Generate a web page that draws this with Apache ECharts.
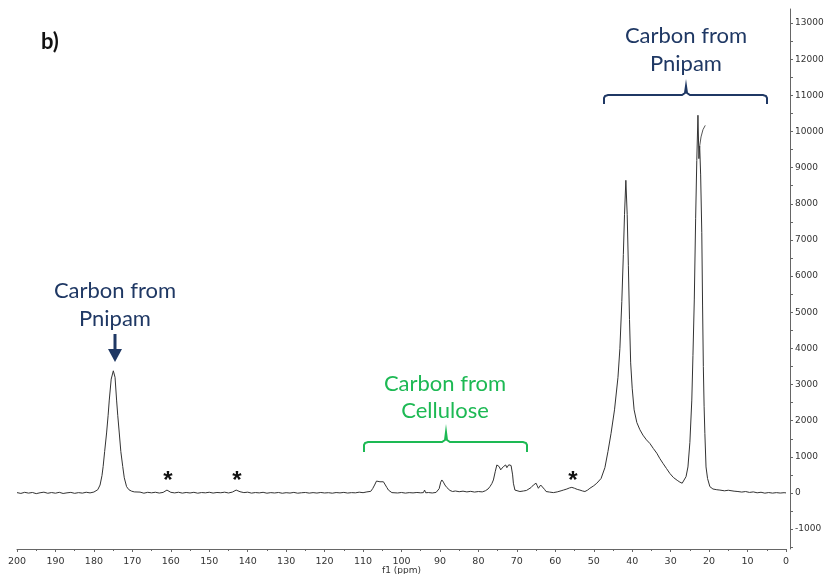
<!DOCTYPE html>
<html>
<head>
<meta charset="utf-8">
<script src="https://cdn.jsdelivr.net/npm/echarts@6/dist/echarts.min.js"></script>
<style>html,body{margin:0;padding:0;background:#fff}#chart{width:825px;height:574px}</style>
</head>
<body>
<div id="chart"></div>
<script>
// 13C NMR spectrum, [chemical shift (ppm), intensity]
const spectrum = [
[200,10],[199,-12],[198,18],[197,-4],[196,14],[195,-18],[194,6],[193,22],[192,-8],[191,12],[190,-6],
[189,18],[188,-14],[187,4],[186,16],[185,-10],[184,10],[183,-4],[182,20],[181,2],[180,26],
[179.5,45],[179,90],[178.4,220],[177.9,480],[177.6,730],[177.2,1150],[176.7,1660],[176.3,2150],[176.0,2570],
[175.5,3150],[174.95,3380],[174.5,3200],[174.1,2570],[173.8,2150],[173.4,1660],[173.0,1150],[172.5,730],
[172.1,420],[171.5,175],[170.9,90],[170.2,50],[169.5,30],
[169,10],[168,24],[167,-6],[166,18],[165,4],[164,20],[163,-2],[162,16],[161.5,45],[161,80],[160.5,60],[160,18],
[159,2],[158,20],[157,-4],[156,14],[155,0],[154,18],[153,-6],[152,12],[151,4],[150,20],[149,-2],[148,14],
[147,6],[146,22],[145,0],[144,24],[143.5,55],[143,80],[142.5,75],[142,35],[141,10],[140,22],[139,-4],[138,12],
[137,2],[136,18],[135,-6],[134,10],[133,0],[132,14],[131,-8],[130,8],[129,-2],[128,16],[127,-6],[126,6],
[125,14],[124,-4],[123,10],[122,-2],[121,14],[120,0],[119,8],[118,-6],[117,12],[116,2],[115,16],[114,-2],
[113,10],[112,4],[111,22],[110,8],[109,30],[108.5,20],[108,45],[107.5,120],[107,220],[106.5,330],[106,360],
[105.6,310],[105.2,340],[104.7,310],[104.3,270],[103.8,150],[103.4,80],[103,30],[102.5,10],[102,20],[101,0],
[100,14],[99,-4],[98,10],[97,2],[96,14],[95,4],[94.3,10],[94,80],[93.7,5],[93,12],[92,0],[91,16],[90.5,40],
[90.2,120],[89.8,300],[89.5,360],[89.1,300],[88.7,220],[88.2,150],[87.8,110],[87.4,70],[86.7,40],[86,55],
[85,35],[84,50],[83,30],[82,45],[81,25],[80,40],[79,30],[78.2,60],[77.5,110],[77.0,175],[76.5,260],[76.1,360],
[75.6,600],[75.2,775],[74.9,760],[74.6,730],[74.2,640],[73.9,590],[73.5,730],[73.2,760],[72.9,775],[72.6,700],
[72.4,680],[72.1,780],[71.8,820],[71.5,760],[71.3,730],[71.1,500],[70.9,270],[70.5,80],[70,50],[69.2,40],
[68.3,55],[67.5,70],[67.0,80],[66.3,150],[65.7,220],[65.0,270],[64.7,200],[64.4,130],[64.1,170],[63.8,220],
[63.3,175],[62.8,100],[62.4,40],[61.5,25],[60.5,10],[59.5,30],[58.5,60],[57.9,80],[57,110],[56.3,140],
[55.7,155],[55,130],[54.3,100],[53.6,80],[52.9,55],[52.3,40],[51.6,80],[51.0,130],[50.0,200],[49.2,270],
[48.1,400],[47.1,700],[46.3,1150],[45.5,1650],[44.6,2300],[43.7,3200],[43.2,4000],[42.7,5300],[42.3,6600],
[42.0,7700],[41.65,8650],[41.3,7700],[41.0,6300],[40.7,4800],[40.4,3600],[40.0,2900],[39.5,2300],[38.8,1950],
[38.0,1750],[37.2,1600],[36.3,1470],[35.4,1370],[34.5,1230],[33.6,1100],[32.8,950],[32.0,820],[31.1,680],
[30.2,540],[29.3,430],[28.3,350],[27.6,300],[27.0,270],[26.5,320],[26.0,450],[25.5,720],[25.0,1400],
[24.5,2570],[24.2,3800],[23.85,5340],[23.5,7600],[23.2,9200],[22.9,10450],[22.65,9250],[22.45,9600],
[22.2,8800],[21.9,7200],[21.7,5200],[21.5,3500],[21.3,2400],[21.1,1650],[20.8,720],[20.4,400],[19.8,175],
[19.0,110],[18.0,90],[17.2,80],[16,60],[15,75],[14.6,80],[13.5,50],[12.5,40],[11.5,25],[10.5,40],[9.5,15],
[8.5,30],[7.5,5],[6.5,20],[5.5,-5],[4.5,12],[3.5,-4],[2.5,10],[1.5,-2],[0.5,8],[0,2]
];
// short overlapping trace segment at the top of the 23 ppm peak
const artifact = [[22.45,9600],[22.1,9850],[21.6,10050],[21.0,10170]];

const yLabelValues = [-1000,0,1000,2000,3000,4000,5000,6000,7000,8000,9000,10000,11000,12000,13000];
const yTickValues = [-1500,-1000,-500,0,500,1000,1500,2000,2500,3000,3500,4000,4500,5000,5500,6000,6500,7000,7500,8000,8500,9000,9500,10000,10500,11000,11500,12000,12500,13000];

const navy = '#1F3864';
const green = '#1DB954';
const axisColor = '#666';
const labelColor = '#333';
const labelFont = 'DejaVu Sans';
const annFont = 'Lato';

function bracket(x1, x2, xm, y, hook, notch) {
  return [[x1, y + hook], [x1, y + 3], [x1 + 1, y + 1], [x1 + 4, y], [xm - 4, y], [xm - 1, y - 2], [xm, y - notch],
          [xm + 1, y - 2], [xm + 4, y], [x2 - 4, y], [x2 - 1, y + 1], [x2, y + 3], [x2, y + hook]];
}

const chart = echarts.init(document.getElementById('chart'), null, {renderer: 'canvas'});
chart.setOption({
  animation: false,
  backgroundColor: '#fff',
  grid: {left: 17, right: 39, top: 9, bottom: 25, containLabel: false, outerBoundsMode: 'none'},
  xAxis: {
    type: 'value', min: 0, max: 200, interval: 10, inverse: true,
    name: 'f1 (ppm)', nameLocation: 'middle', nameGap: 17, nameMoveOverlap: false,
    nameTextStyle: {fontFamily: labelFont, fontSize: 9, color: labelColor},
    axisLine: {onZero: false, lineStyle: {color: axisColor, width: 1}},
    axisTick: {show: true, length: 3, lineStyle: {color: axisColor}},
    minorTick: {show: true, splitNumber: 2, length: 2, lineStyle: {color: axisColor}},
    axisLabel: {fontFamily: labelFont, fontSize: 9.5, color: labelColor, margin: 8},
    splitLine: {show: false}
  },
  yAxis: {
    type: 'value', min: -1550, max: 13390, position: 'right', offset: 4,
    axisLine: {show: true, onZero: false, lineStyle: {color: axisColor, width: 1}},
    axisTick: {show: true, length: 3, customValues: yTickValues, lineStyle: {color: axisColor}},
    axisLabel: {fontFamily: labelFont, fontSize: 9, color: labelColor, margin: 5, customValues: yLabelValues,
                formatter: function (v) { return String(v); }},
    splitLine: {show: false}
  },
  series: [
    {type: 'line', data: spectrum, showSymbol: false, symbol: 'none', lineStyle: {color: '#333', width: 1}},
    {type: 'line', data: artifact, showSymbol: false, symbol: 'none', lineStyle: {color: '#555', width: 1}}
  ],
  graphic: [
    {type: 'text', x: 41, y: 42, style: {text: 'b)', font: 'bold 22px ' + annFont, fill: '#111', textVerticalAlign: 'middle'}},
    {type: 'text', x: 686, y: 36, style: {text: 'Carbon from', font: '22px ' + annFont, fill: navy, textAlign: 'center', textVerticalAlign: 'middle'}},
    {type: 'text', x: 686, y: 64, style: {text: 'Pnipam', font: '22px ' + annFont, fill: navy, textAlign: 'center', textVerticalAlign: 'middle'}},
    {type: 'polyline', shape: {points: bracket(604, 767, 686, 95, 9, 9)}, style: {fill: null, stroke: navy, lineWidth: 2}},
    {type: 'text', x: 115, y: 291, style: {text: 'Carbon from', font: '22px ' + annFont, fill: navy, textAlign: 'center', textVerticalAlign: 'middle'}},
    {type: 'text', x: 115, y: 319, style: {text: 'Pnipam', font: '22px ' + annFont, fill: navy, textAlign: 'center', textVerticalAlign: 'middle'}},
    {type: 'line', shape: {x1: 115, y1: 334, x2: 115, y2: 353}, style: {stroke: navy, lineWidth: 3}},
    {type: 'polygon', shape: {points: [[108,349],[122,349],[115,362]]}, style: {fill: navy}},
    {type: 'text', x: 445, y: 384, style: {text: 'Carbon from', font: '22px ' + annFont, fill: green, textAlign: 'center', textVerticalAlign: 'middle'}},
    {type: 'text', x: 445, y: 411, style: {text: 'Cellulose', font: '22px ' + annFont, fill: green, textAlign: 'center', textVerticalAlign: 'middle'}},
    {type: 'polyline', shape: {points: bracket(364, 527, 446, 442, 10, 10)}, style: {fill: null, stroke: green, lineWidth: 2}},
    {type: 'text', x: 168, y: 481, style: {text: '*', font: 'bold 24px Liberation Sans', fill: '#111', textAlign: 'center', textVerticalAlign: 'middle'}},
    {type: 'text', x: 237, y: 481, style: {text: '*', font: 'bold 24px Liberation Sans', fill: '#111', textAlign: 'center', textVerticalAlign: 'middle'}},
    {type: 'text', x: 573, y: 481, style: {text: '*', font: 'bold 24px Liberation Sans', fill: '#111', textAlign: 'center', textVerticalAlign: 'middle'}}
  ]
});
</script>
</body>
</html>
